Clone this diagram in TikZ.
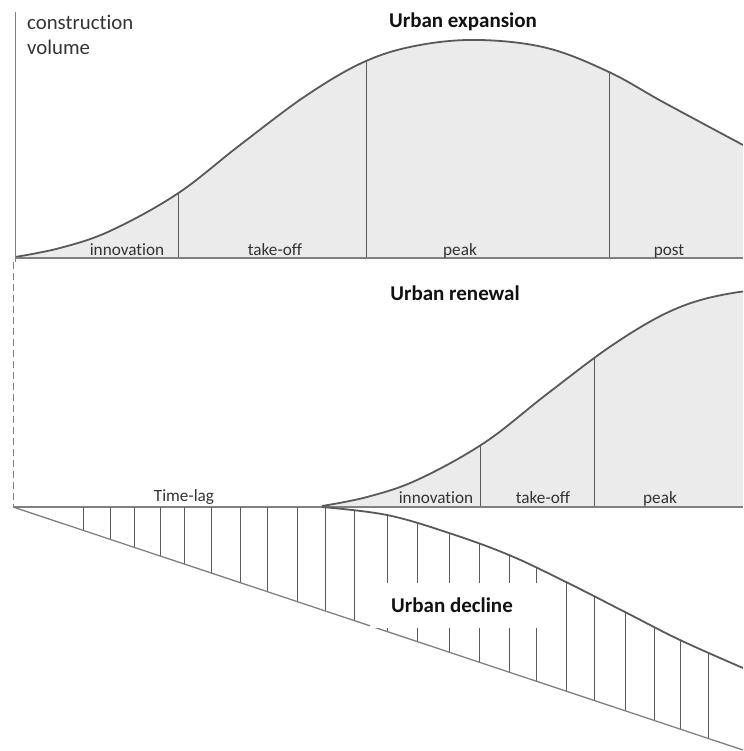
\documentclass[tikz,border=0pt]{standalone}
\usepackage{fontspec}
\setmainfont{Carlito}[Ligatures=CommonOff]
\definecolor{curvegray}{HTML}{595959}
\definecolor{axisgray}{HTML}{808080}
\definecolor{areagray}{HTML}{EBEBEB}
\definecolor{labelgray}{HTML}{333333}
\definecolor{titleblack}{HTML}{111111}
% growth curve (x right, y down, 1 unit = 1pt)
\newcommand\expcurve{plot[smooth,tension=0.6] coordinates {(15,257) (60,248) (110,231) (177,194) (240,145) (307,95) (366,61) (420,45) (480,40) (547,48) (609,72) (663,102) (743,145)}}
\newcommand\declinecurve{plot[smooth,tension=0.6] coordinates {(322,507) (387,515) (449,533) (509,555) (566,582) (625,612) (680,640) (743,668)}}
\begin{document}
\begin{tikzpicture}[x=1pt,y=-1pt,
  curveline/.style={draw=curvegray,line width=1.8pt,line join=round},
  baseline/.style={draw=axisgray,line width=1.3pt},
  divider/.style={draw=curvegray,line width=0.9pt},
  hatch/.style={draw=curvegray,line width=0.8pt},
  area/.style={fill=areagray},
  phase/.style={anchor=base,inner sep=0pt,text=labelgray,font=\fontsize{17.2}{20}\selectfont},
  title/.style={anchor=base,inner sep=0pt,text=titleblack,font=\fontsize{21}{25}\selectfont\bfseries},
  axislabel/.style={anchor=base west,inner sep=0pt,align=left,text=labelgray,font=\fontsize{20.8}{25}\selectfont}]
\useasboundingbox (0,0) rectangle (743,751);
\clip (0,0) rectangle (743,751);

% ---- urban expansion ----
\fill[area] \expcurve -- (743,258) -- (15,258) -- cycle;
\begin{scope}
  \clip \expcurve -- (743,258) -- (15,258) -- cycle;
  \foreach \x in {178,366,609} \draw[divider] (\x,270) -- (\x,0);
\end{scope}
\draw[curveline] \expcurve;
\draw[baseline] (15,258) -- (743,258);
\draw[axisgray,line width=1pt] (15,12) -- (15,262);

% base anchor of a two-line node sits on the last line
\node[axislabel] (ylabel) at (27,55) {construction\\volume};
\node[title] (texp) at (463,28) {Urban expansion};
\node[phase] (e1) at (127,255) {innovation};
\node[phase] (e2) at (275,255) {take-off};
\node[phase] (e3) at (460,255) {peak};
\node[phase] (e4) at (669,255) {post};

% ---- urban renewal: same curve, shifted ----
\begin{scope}
  \clip (0,265) rectangle (743,507);
  \begin{scope}[shift={(307,249)}]
    \fill[area] \expcurve -- (743,258) -- (15,258) -- cycle;
    \begin{scope}
      \clip \expcurve -- (743,258) -- (15,258) -- cycle;
      \foreach \x in {173,287} \draw[divider] (\x,270) -- (\x,0);
    \end{scope}
    \draw[curveline] \expcurve;
  \end{scope}
\end{scope}
\draw[axisgray,line width=1pt,dash pattern=on 7pt off 4pt] (13,262) -- (13,507);
\draw[baseline] (13,507) -- (743,507);

\node[title] (tren) at (455,300) {Urban renewal};
\node[phase] (lag) at (184,501) {Time-lag};
\node[phase] (r1) at (436,503) {innovation};
\node[phase] (r2) at (543,503) {take-off};
\node[phase] (r3) at (660,503) {peak};

% ---- urban decline ----
\begin{scope}
  \clip \declinecurve -- (743,750) -- (13,507) -- cycle;
  \foreach \x in {83,110,134,160,184,211,240,267,297,325,354,387,417,449,479,509,536,566,594,625,654,680,708}
    \draw[hatch] (\x,500) -- (\x,760);
\end{scope}
\draw[curveline] \declinecurve;
\draw[baseline] (13,507) -- (743,750);
\node[fill=white,inner sep=0pt,minimum width=172pt,minimum height=45pt] (gap) at (456,605) {};
\node[title] (tdec) at (452,612) {Urban decline};
\end{tikzpicture}
\end{document}
